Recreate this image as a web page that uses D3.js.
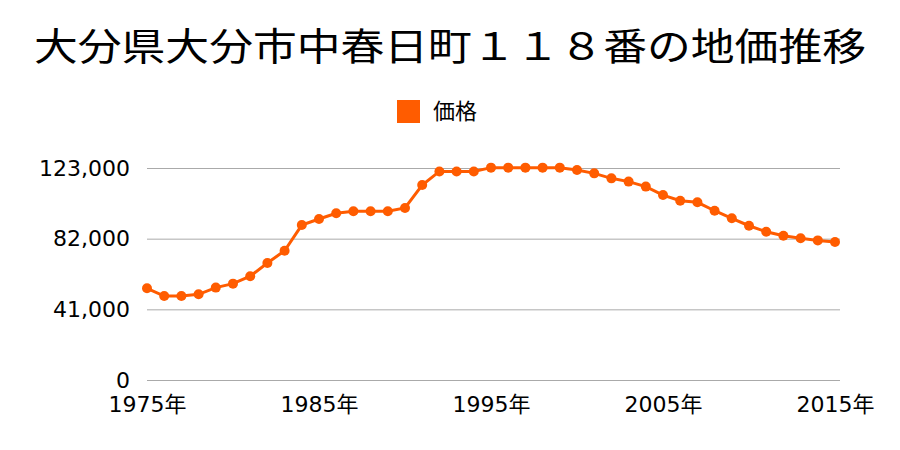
<!DOCTYPE html>
<html><head><meta charset="utf-8">
<script src="https://cdn.jsdelivr.net/npm/d3@7"></script>
<style>body{margin:0;background:#fff}svg{display:block}</style>
</head><body><svg id="c" width="900" height="450"></svg>
<script>
const title = "大分県大分市中春日町１１８番の地価推移";
const seriesName = "価格";
const years = d3.range(1975, 2016);
const prices = [
 53200, 48700, 48700, 49700, 53600, 55900, 60200, 67900, 75000, 89900,
 93400, 96700, 97900, 97900, 97900, 99800, 113100, 121000, 121000, 121000,
 123200, 123200, 123200, 123200, 123200, 121800, 119900, 117000, 115100, 112200,
 107300, 104000, 103100, 98200, 93800, 89500, 86000, 83700, 82200, 81000, 80100
];
const yTicks = [0, 41000, 82000, 123000];
const xTicks = [1975, 1985, 1995, 2005, 2015];
const color = "#ff5c00";

const svg = d3.select("#c");
const font = "'Noto Sans CJK JP', 'Noto Sans', sans-serif";
const numFont = "'DejaVu Sans', 'Noto Sans CJK JP', sans-serif";
const x = d3.scaleLinear().domain([1975, 2015]).range([147, 835]);
const y = d3.scaleLinear().domain([0, 123000]).range([380, 168]);

svg.append("text").attr("x", 450).attr("y", 60).attr("text-anchor", "middle")
  .attr("font-family", font).attr("font-size", 38).attr("fill", "#000")
  .attr("textLength", 832).attr("lengthAdjust", "spacingAndGlyphs").text(title);

svg.append("rect").attr("x", 397).attr("y", 100).attr("width", 23).attr("height", 23).attr("fill", color);
svg.append("text").attr("x", 433).attr("y", 119).attr("font-family", font).attr("font-size", 22)
  .attr("fill", "#000").text(seriesName);

const yAxis = d3.axisLeft(y).tickValues(yTicks).tickSize(-(840 - 147)).tickPadding(17)
  .tickFormat(d3.format(","));
const gy = svg.append("g").attr("transform", "translate(147,0)").call(yAxis);
gy.select(".domain").remove();
gy.selectAll(".tick line").attr("stroke", "#aaa").attr("stroke-width", 1);
gy.selectAll(".tick text").attr("font-family", numFont).attr("font-size", 22).attr("fill", "#000");

const xAxis = d3.axisBottom(x).tickValues(xTicks).tickSize(0).tickPadding(16)
  .tickFormat(d => d + "年");
const gx = svg.append("g").attr("transform", "translate(0,380)").call(xAxis);
gx.select(".domain").remove();
gx.selectAll(".tick text").attr("font-family", numFont).attr("font-size", 22).attr("fill", "#000");

const data = years.map((yr, i) => ({yr, v: prices[i]}));
svg.append("path").datum(data).attr("fill", "none").attr("stroke", color).attr("stroke-width", 3)
  .attr("d", d3.line().x(d => x(d.yr)).y(d => y(d.v)));
svg.selectAll("circle.pt").data(data).join("circle").attr("class", "pt")
  .attr("cx", d => x(d.yr)).attr("cy", d => y(d.v)).attr("r", 5).attr("fill", color);
</script></body></html>
